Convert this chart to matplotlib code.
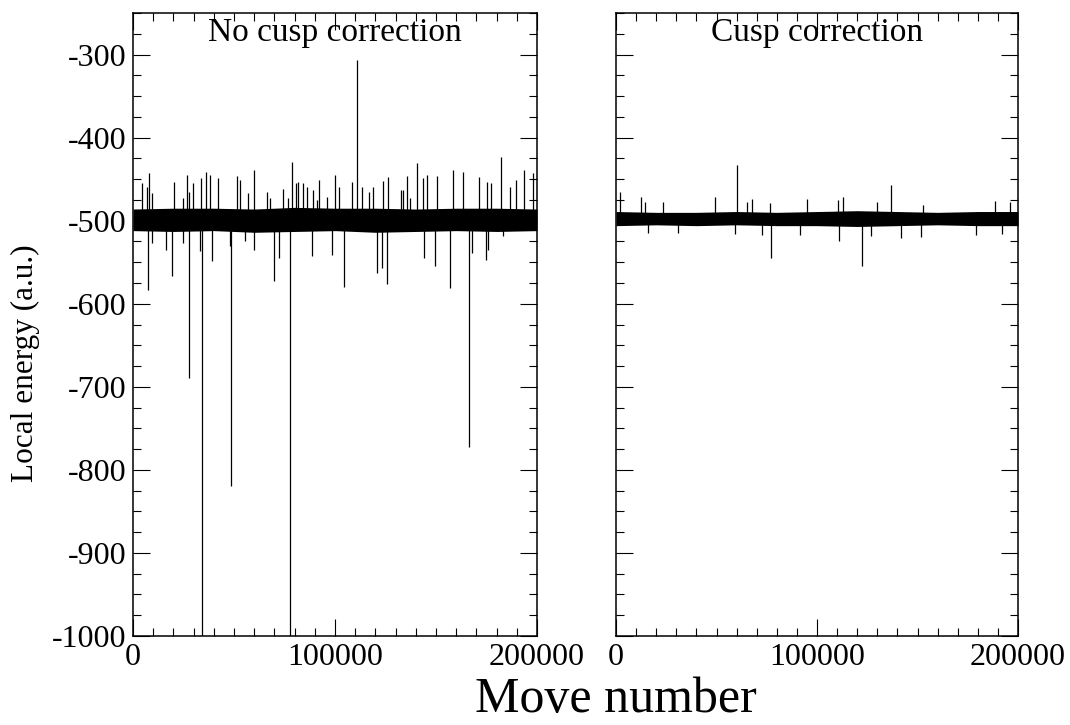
import matplotlib
matplotlib.use("Agg")
import matplotlib.pyplot as plt
from matplotlib.ticker import MultipleLocator

plt.rcParams['font.family'] = ['Liberation Serif', 'DejaVu Serif']
plt.rcParams['axes.unicode_minus'] = False

# --- data ---
# envelope of the dense noise band (move number, upper and lower edge)
band_x = [0, 20000, 40000, 60000, 80000, 100000, 120000, 140000, 160000, 180000, 200000]
left_band_hi = [-486, -485, -485, -486, -484, -485, -485, -486, -485, -485, -486]
left_band_lo = [-512, -513, -512, -514, -513, -512, -514, -513, -512, -513, -512]
right_band_hi = [-489, -490, -490, -489, -490, -489, -488, -489, -490, -489, -489]
right_band_lo = [-506, -505, -506, -505, -506, -506, -507, -506, -505, -506, -506]
band_center = -498

# spikes of the uncorrected run (move number, energy)
left_spike_x = [4300, 7900, 20300, 26900, 29500, 33500, 36100, 38100, 42200, 51300,
                59900, 74400, 78700, 92200, 100100, 108200, 111000, 113600, 118600, 123900,
                126000, 135800, 140400, 145700, 150300, 158200, 163200, 171400, 182000, 189600,
                193700, 197800,
                7100, 9200, 24900, 27900, 53000, 57100, 66200, 67800, 76900, 80500,
                81800, 84300, 86000, 88900, 90900, 95900, 102100, 116800, 132500, 133500,
                137100, 143700, 175400, 177200, 186600,
                7600, 19300, 27900, 34200, 48700, 77700, 166200, 33200, 38900, 59900,
                69800, 72100, 88400, 98300, 104600, 120600, 123400, 125600, 144200, 149500,
                156900, 174700,
                9200, 16300, 24600, 48000, 55400, 167600, 175900, 183300]
left_spike_y = [-455, -443, -453, -445, -455, -449, -441, -445, -449, -446,
                -439, -462, -429, -451, -445, -453, -307, -459, -459, -452,
                -448, -446, -430, -445, -446, -439, -441, -447, -423, -451,
                -439, -443,
                -459, -467, -473, -465, -451, -467, -465, -473, -473, -455,
                -453, -455, -459, -463, -475, -471, -459, -466, -463, -463,
                -473, -449, -453, -455, -459,
                -583, -567, -690, -1000, -820, -1000, -773, -537, -549, -535,
                -573, -545, -543, -541, -580, -563, -557, -576, -545, -555,
                -581, -547,
                -527, -535, -527, -531, -525, -539, -535, -519]

# spikes of the cusp-corrected run
right_spike_x = [2000, 12300, 23200, 49400, 60000, 94900, 110600, 113100, 136600, 188500,
                 14400, 65000, 67500, 76600, 129700, 152900, 196000,
                 16100, 77000, 111100, 122500, 141900,
                 31000, 59200, 72500, 91500, 127100, 151900, 179100, 191900]
right_spike_y = [-465, -471, -477, -472, -433, -474, -475, -471, -457, -476,
                 -478, -477, -474, -479, -478, -481, -478,
                 -515, -545, -524, -555, -521,
                 -515, -516, -517, -517, -519, -520, -517, -516]

titles = ["No cusp correction", "Cusp correction"]

fig = plt.figure(figsize=(10.7, 7.25), dpi=100)
ax1 = fig.add_axes([133 / 1070, 1 - 636 / 725, 404 / 1070, 623 / 725])
ax2 = fig.add_axes([616 / 1070, 1 - 636 / 725, 402 / 1070, 623 / 725])

panels = [
    (ax1, left_band_hi, left_band_lo, left_spike_x, left_spike_y),
    (ax2, right_band_hi, right_band_lo, right_spike_x, right_spike_y),
]
for i, (ax, hi, lo, sx, sy) in enumerate(panels):
    ax.fill_between(band_x, lo, hi, color='black', lw=0)
    ax.vlines(sx, band_center, sy, color='black', lw=0.9)
    ax.set_xlim(0, 200000)
    ax.set_ylim(-1000, -250)
    ax.xaxis.set_major_locator(MultipleLocator(100000))
    ax.xaxis.set_minor_locator(MultipleLocator(10000))
    ax.yaxis.set_major_locator(MultipleLocator(100))
    ax.yaxis.set_minor_locator(MultipleLocator(25))
    ax.tick_params(which='both', direction='in', top=True, right=True, width=0.8)
    ax.tick_params(which='major', length=12, labelsize=23, pad=5)
    ax.tick_params(which='minor', length=6)
    for sp in ax.spines.values():
        sp.set_linewidth(1.1)
    ax.text(0.5, 0.993, titles[i], transform=ax.transAxes, ha='center', va='top', fontsize=24)

ax2.tick_params(labelleft=False)

fig.text(25 / 1070, 1 - 363 / 725, "Local energy (a.u.)", rotation=90, ha='center', va='center', fontsize=22.5)
fig.text(616 / 1070, 1 - 712 / 725, "Move number", ha='center', va='baseline', fontsize=36)

plt.savefig('out.png')
